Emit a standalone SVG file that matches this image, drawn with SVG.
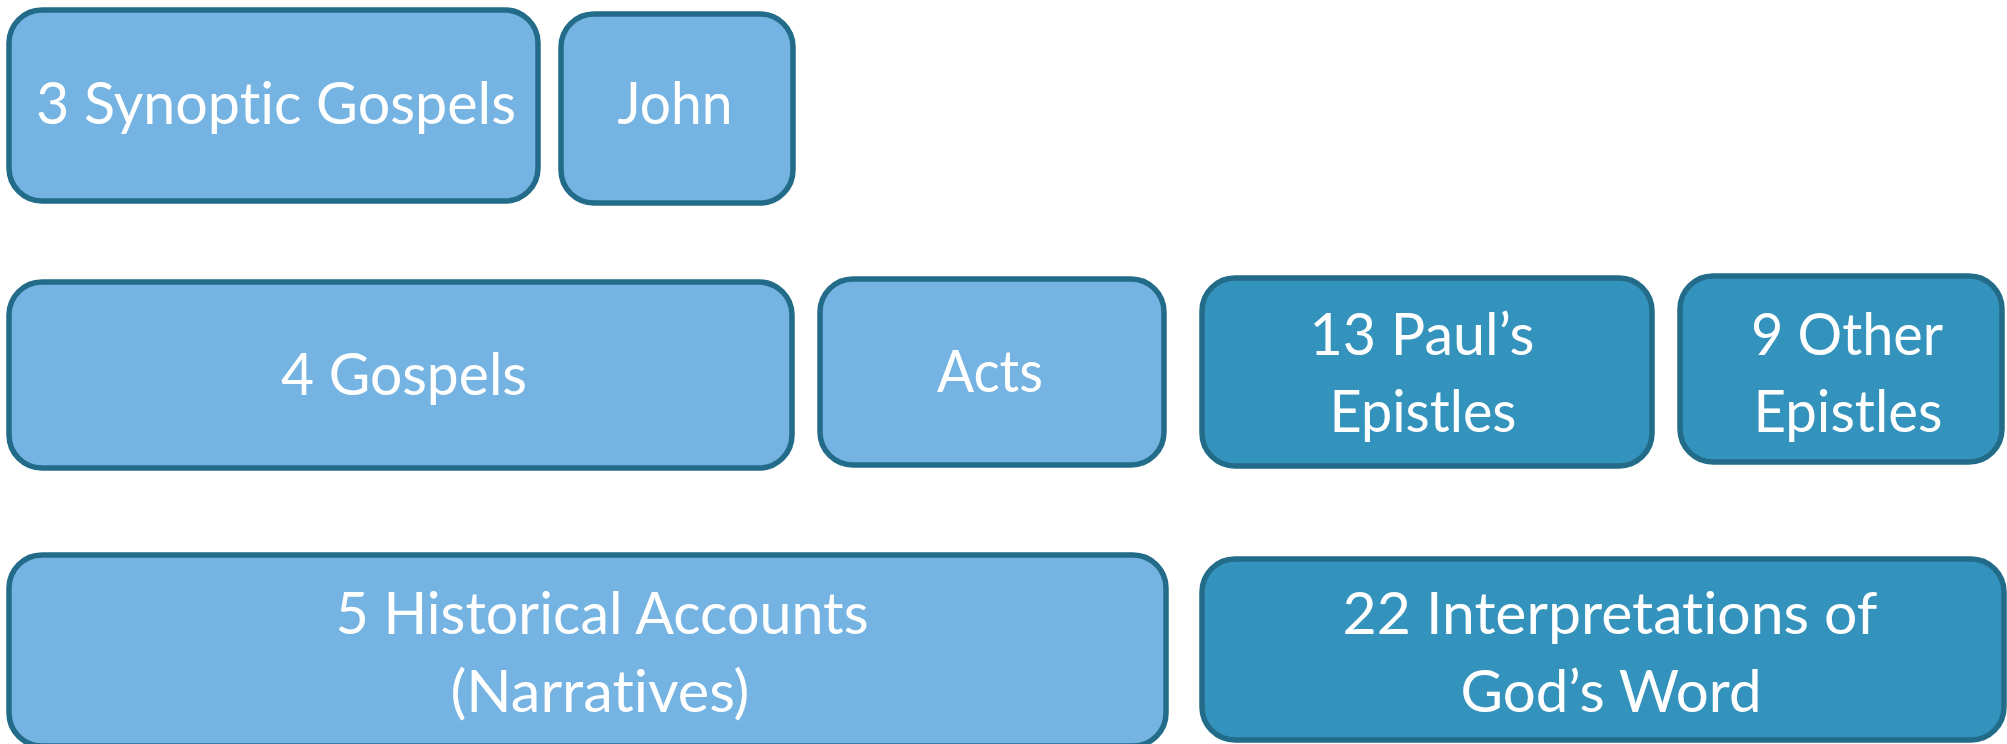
<svg xmlns="http://www.w3.org/2000/svg" width="2007" height="744" viewBox="0 0 2007 744">
<style>
.box{stroke:#236C89;stroke-width:5.5}
.light{fill:#74B3E2}
.dark{fill:#3393BC}
.t{font-family:Lato,"Open Sans","Liberation Sans",sans-serif;font-size:59px;fill:#FFFFFF;text-anchor:middle;font-variant-ligatures:none;font-feature-settings:"liga" 0}
</style>
<rect width="2007" height="744" fill="#FFFFFF"/>
<g id="synoptic">
<rect class="box light" x="9" y="10" width="529" height="191" rx="33"/>
<text class="t" x="276" y="124" textLength="480" lengthAdjust="spacingAndGlyphs">3 Synoptic Gospels</text>
</g>
<g id="john">
<rect class="box light" x="561" y="14" width="232" height="189" rx="33"/>
<text class="t" x="675" y="124" textLength="115" lengthAdjust="spacingAndGlyphs">John</text>
</g>
<g id="gospels">
<rect class="box light" x="9" y="282" width="783" height="186" rx="33"/>
<text class="t" x="404" y="395" textLength="246" lengthAdjust="spacingAndGlyphs">4 Gospels</text>
</g>
<g id="acts">
<rect class="box light" x="820" y="279" width="344" height="186" rx="33"/>
<text class="t" x="990" y="392" textLength="106" lengthAdjust="spacingAndGlyphs">Acts</text>
</g>
<g id="pauls">
<rect class="box dark" x="1202" y="278" width="450" height="188" rx="33"/>
<text class="t" x="1422" y="355" textLength="225" lengthAdjust="spacingAndGlyphs">13 Paul’s</text>
<text class="t" x="1423" y="432" textLength="187" lengthAdjust="spacingAndGlyphs">Epistles</text>
</g>
<g id="other">
<rect class="box dark" x="1680" y="276" width="322" height="186" rx="33"/>
<text class="t" x="1847" y="355" textLength="192" lengthAdjust="spacingAndGlyphs">9 Other</text>
<text class="t" x="1848" y="432" textLength="189" lengthAdjust="spacingAndGlyphs">Epistles</text>
</g>
<g id="historical">
<rect class="box light" x="9" y="555" width="1157" height="191" rx="33"/>
<text class="t" x="602" y="634" textLength="533" lengthAdjust="spacingAndGlyphs">5 Historical Accounts</text>
<text class="t" x="600" y="712" textLength="299" lengthAdjust="spacingAndGlyphs">(Narratives)</text>
</g>
<g id="interpretations">
<rect class="box dark" x="1202" y="559" width="802" height="181" rx="33"/>
<text class="t" x="1610" y="634" textLength="535" lengthAdjust="spacingAndGlyphs">22 Interpretations of</text>
<text class="t" x="1611" y="712" textLength="301" lengthAdjust="spacingAndGlyphs">God’s Word</text>
</g>
<g id="connectors"/>
</svg>
